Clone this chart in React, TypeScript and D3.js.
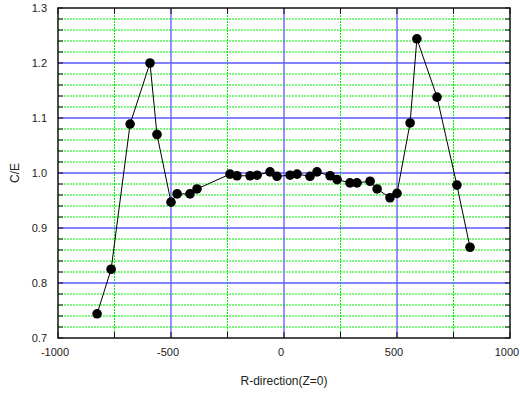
import React from "react";
import * as d3 from "d3";

const rPos = [
  -827, -765, -681, -593, -562, -500, -473, -416, -385, -239, -208, -150, -119,
  -62, -31, 27, 58, 115, 146, 204, 235, 292, 323, 381, 412, 469, 500, 558, 588,
  677, 765, 823,
];
const ceVal = [
  0.744, 0.825, 1.089, 1.2, 1.07, 0.947, 0.962, 0.962, 0.971, 0.998, 0.995,
  0.995, 0.996, 1.002, 0.994, 0.996, 0.998, 0.994, 1.002, 0.995, 0.988, 0.982,
  0.982, 0.985, 0.971, 0.955, 0.963, 1.091, 1.244, 1.138, 0.978, 0.865,
];
const xTicks = [-1000, -500, 0, 500, 1000];
const yTicks = [0.7, 0.8, 0.9, 1.0, 1.1, 1.2, 1.3];

const width = 520,
  height = 394;
const margin = { left: 58, right: 10, top: 8, bottom: 56 };

const App = () => {
  const x = d3
    .scaleLinear()
    .domain([-1000, 1000])
    .range([margin.left, width - margin.right]);
  const y = d3
    .scaleLinear()
    .domain([0.7, 1.3])
    .range([height - margin.bottom, margin.top]);

  const data = rPos.map((r, i) => ({ r, v: ceVal[i] }));
  const line = d3
    .line<{ r: number; v: number }>()
    .x((d) => x(d.r))
    .y((d) => y(d.v));

  const minorY = d3.range(0, 31).map((i) => 0.7 + i * 0.02);
  const minorX = [-750, -250, 250, 750];
  const allX = d3.range(-1000, 1001, 250);
  const fmt = d3.format(".1f");
  const [x0, x1] = x.range();
  const [y0, y1] = y.range();

  return (
    <svg
      width={width}
      height={height}
      style={{ position: "absolute", left: 0, top: 0, background: "#fff" }}
      fontFamily="Liberation Sans, Arial, sans-serif"
    >
      {/* minor grid */}
      <g stroke="#00ee00" strokeWidth={1} strokeDasharray="2,1">
        {minorY
          .filter((_, i) => i % 5 !== 0)
          .map((v, i) => (
            <line key={"my" + i} x1={x0} x2={x1} y1={y(v)} y2={y(v)} />
          ))}
        {minorX.map((v) => (
          <line key={"mx" + v} x1={x(v)} x2={x(v)} y1={y0} y2={y1} />
        ))}
      </g>
      {/* major grid */}
      <g stroke="#5a5aff" strokeWidth={1.3}>
        {yTicks.slice(1, -1).map((v) => (
          <line key={"gy" + v} x1={x0} x2={x1} y1={y(v)} y2={y(v)} />
        ))}
        {xTicks.slice(1, -1).map((v) => (
          <line key={"gx" + v} x1={x(v)} x2={x(v)} y1={y0} y2={y1} />
        ))}
      </g>
      {/* ticks */}
      <g stroke="#111" strokeWidth={1}>
        {minorY.map((v, i) => (
          <g key={"ty" + i}>
            <line x1={x0} x2={x0 + 5} y1={y(v)} y2={y(v)} />
            <line x1={x1} x2={x1 - 5} y1={y(v)} y2={y(v)} />
          </g>
        ))}
        {allX.map((v) => (
          <g key={"tx" + v}>
            <line x1={x(v)} x2={x(v)} y1={y0} y2={y0 - 6} />
            <line x1={x(v)} x2={x(v)} y1={y1} y2={y1 + 6} />
          </g>
        ))}
      </g>
      <rect
        x={x0}
        y={y1}
        width={x1 - x0}
        height={y0 - y1}
        fill="none"
        stroke="#111"
        strokeWidth={1.5}
      />
      {/* data */}
      <path d={line(data) ?? ""} fill="none" stroke="#000" strokeWidth={1} />
      {data.map((d, i) => (
        <circle key={i} cx={x(d.r)} cy={y(d.v)} r={4.8} fill="#000" />
      ))}
      {/* labels */}
      <g fontSize={11} fill="#222">
        {yTicks.map((v) => (
          <text key={"ly" + v} x={x0 - 11} y={y(v)} dy="0.35em" textAnchor="end">
            {fmt(v)}
          </text>
        ))}
        {xTicks.map((v) => (
          <text
            key={"lx" + v}
            x={x(v) - 3}
            y={y0 + 18}
            textAnchor="middle"
          >
            {v}
          </text>
        ))}
      </g>
      <text
        x={x((-1000 + 1000) / 2)}
        y={385}
        textAnchor="middle"
        fontSize={12}
        fill="#222"
      >
        R-direction(Z=0)
      </text>
      <text
        transform={`translate(19,${(y0 + y1) / 2}) rotate(-90)`}
        textAnchor="middle"
        fontSize={12}
        fill="#222"
      >
        C/E
      </text>
    </svg>
  );
};

export default App;
